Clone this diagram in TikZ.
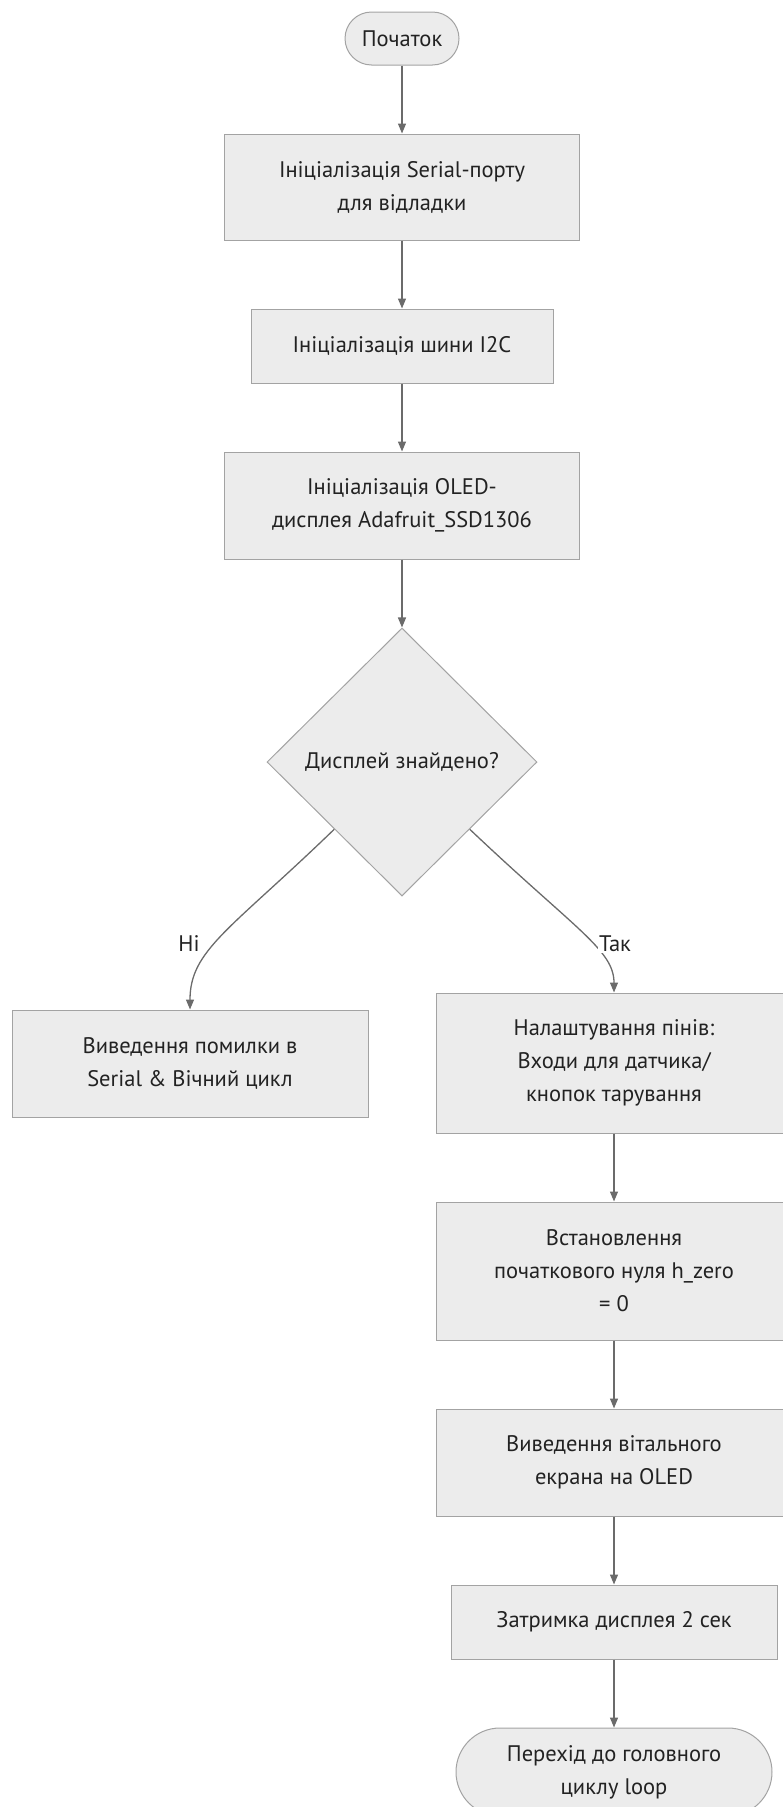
\documentclass[tikz,border=0pt]{standalone}
\usepackage{fontspec}
\setmainfont{PT Sans}
\usetikzlibrary{positioning}
\usetikzlibrary{shapes.geometric}
\usetikzlibrary{shapes.misc}
\usetikzlibrary{arrows.meta}
\definecolor{boxfill}{HTML}{ECECEC}
\definecolor{boxline}{HTML}{A3A3A3}
\definecolor{arrowgray}{HTML}{6B6B6B}
\definecolor{textgray}{HTML}{222222}

\begin{document}
\begin{tikzpicture}[
      x=1pt, y=1pt,
      every node/.style={font=\fontsize{22.5}{33}\selectfont, text=textgray},
      terminal/.style={rounded rectangle, draw=boxline, fill=boxfill, line width=1pt, align=center, inner sep=0pt},
      process/.style ={rectangle, draw=boxline, fill=boxfill, line width=1pt, align=center, inner sep=0pt, minimum width=355pt},
      decision/.style={diamond, draw=boxline, fill=boxfill, line width=1pt, align=center, inner sep=0pt, minimum width=270pt, minimum height=268pt},
      flow/.style={draw=arrowgray, line width=1.3pt, -{Triangle[length=10pt,width=8pt]}},
      branch/.style={fill=white, inner sep=1pt},
      node distance=68pt
    ]
    \useasboundingbox (0,0) rectangle (783,-1807);
    \node [terminal, minimum width=114pt, minimum height=53pt] (start) at (402,-38.5) {Початок} ;
    \node [process, minimum height=106pt] (serial) [below=of start] {Ініціалізація Serial-порту\\для відладки} ;
    \node [process, minimum width=302pt, minimum height=74pt] (i2c) [below=of serial] {Ініціалізація шини I2C} ;
    \node [process, minimum height=107pt] (oled) [below=of i2c] {Ініціалізація OLED-\\дисплея Adafruit\_SSD1306} ;
    \node [decision] (found) [below=of oled] {Дисплей знайдено?} ;
    \node [process, minimum width=356pt, minimum height=107pt] (error) at (190,-1063.5) {Виведення помилки в\\Serial \& Вічний цикл} ;
    \node [process, minimum width=356pt, minimum height=140pt] (pins) at (614,-1063) {Налаштування пінів:\\Входи для датчика/\\кнопок тарування} ;
    \node [process, minimum width=356pt, minimum height=138pt] (zero) [below=of pins] {Встановлення\\початкового нуля h\_zero\\= 0} ;
    \node [process, minimum width=356pt, minimum height=107pt] (splash) [below=of zero] {Виведення вітального\\екрана на OLED} ;
    \node [process, minimum width=326pt, minimum height=74pt] (delay) [below=of splash] {Затримка дисплея 2 сек} ;
    \node [terminal, minimum width=316pt, minimum height=88pt] (loop) [below=of delay] {Перехід до головного\\циклу loop} ;

    \draw [flow] (start) -- (serial) ;
    \draw [flow] (serial) -- (i2c) ;
    \draw [flow] (i2c) -- (oled) ;
    \draw [flow] (oled) -- (found) ;
    \draw [flow] (found.south west) .. controls (230,-930) and (190,-950) .. (error.north) ;
    \draw [flow] (found.south east) .. controls (576,-930) and (614,-950) .. (pins.north) ;
    \node [branch] (no) at (189,-944) {Ні} ;
    \node [branch] (yes) at (615,-944) {Так} ;
    \draw [flow] (pins) -- (zero) ;
    \draw [flow] (zero) -- (splash) ;
    \draw [flow] (splash) -- (delay) ;
    \draw [flow] (delay) -- (loop) ;
  \end{tikzpicture}
\end{document}
